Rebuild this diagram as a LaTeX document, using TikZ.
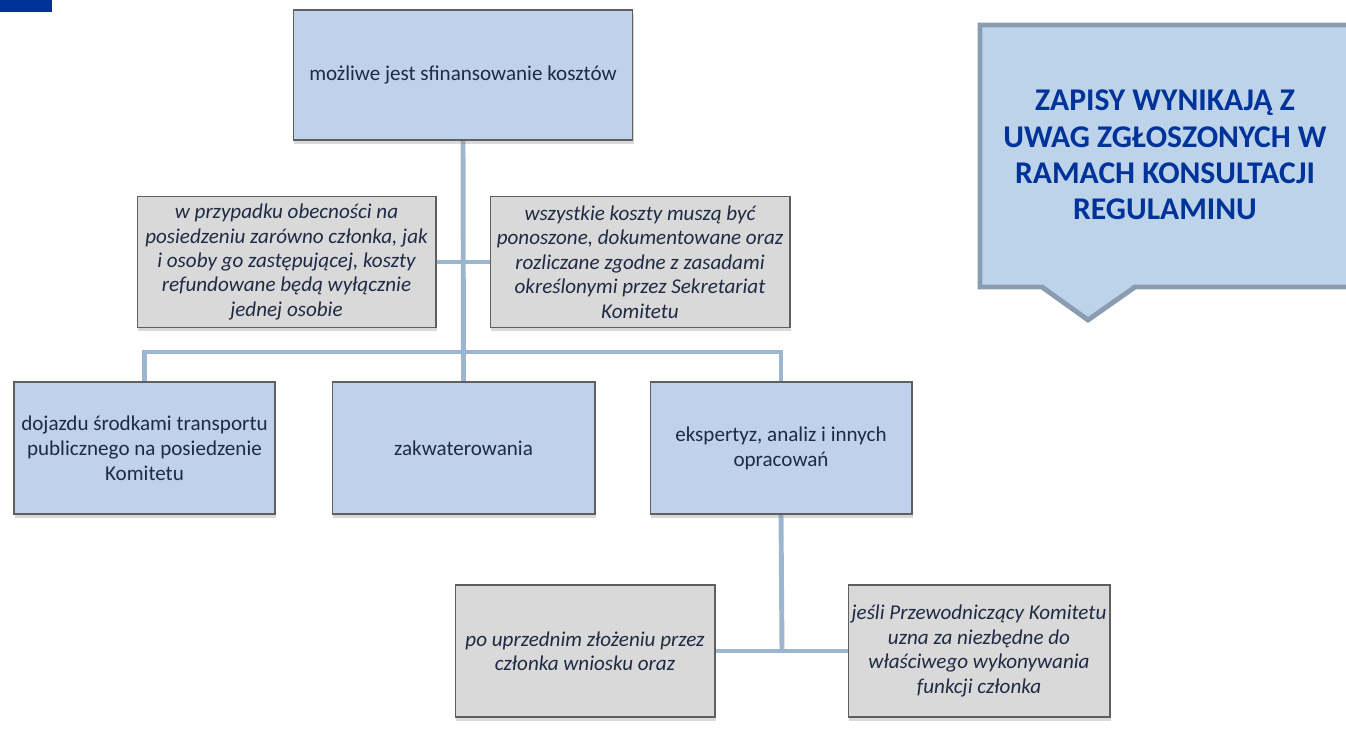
\documentclass[tikz,border=0pt]{standalone}
\usepackage{fontspec}
\setmainfont{Carlito}
\usepackage{tikz}
\usetikzlibrary{positioning, shadows, backgrounds}
\usepackage{xcolor}
\definecolor{kbblue}{HTML}{C0D2EB}
\definecolor{kbgray}{HTML}{D9D9D9}
\definecolor{kbedge}{HTML}{5F5F5F}
\definecolor{kblink}{HTML}{9DB6D0}
\definecolor{kbtext}{HTML}{1F2A44}
\definecolor{kbnavy}{HTML}{003399}
\definecolor{kbcallout}{HTML}{BDD3EA}
\definecolor{kbcalloutedge}{HTML}{8A9DB0}

\begin{document}
\begin{tikzpicture}[x=0.02cm, y=-0.02cm,
    every node/.style={text=kbtext, font=\fontsize{12}{14.2}\selectfont},
    bluebox/.style={draw=kbedge, line width=0.6pt, fill=kbblue, align=center,
      inner sep=1pt, drop shadow={opacity=0.3, shadow xshift=0.5pt, shadow yshift=-2pt}},
    graybox/.style={bluebox, fill=kbgray, font=\fontsize{12}{13.9}\selectfont\itshape},
    link/.style={draw=kblink, line width=2.8pt}]
  \useasboundingbox (0,0) rectangle (1346,750);
  \fill[kbnavy] (0,0) rectangle (52,12);
  % main box and the two notes
  \node[bluebox, minimum width=6.8cm, minimum height=2.6cm] (costs) at (463,75)
    {możliwe jest sfinansowanie kosztów};
  \node[graybox, minimum width=5.98cm, minimum height=2.62cm] (refund) at (286.5,262)
    {w przypadku obecności na\\posiedzeniu zarówno członka, jak\\i osoby go zastępującej, koszty\\refundowane będą wyłącznie\\jednej osobie};
  \node[graybox, minimum width=6cm, minimum height=2.62cm] (rules) at (640,262)
    {wszystkie koszty muszą być\\ponoszone, dokumentowane oraz\\rozliczane zgodne z zasadami\\określonymi przez Sekretariat\\Komitetu};
  % three kinds of costs
  \node[bluebox, minimum width=5.22cm, minimum height=2.64cm] (transport) at (144.5,448)
    {dojazdu środkami transportu\\publicznego na posiedzenie\\Komitetu};
  \node[bluebox, minimum width=5.26cm, minimum height=2.64cm] (lodging) at (463.5,448)
    {zakwaterowania};
  \node[bluebox, minimum width=5.24cm, minimum height=2.64cm] (expert) at (781,448)
    {ekspertyz, analiz i innych\\opracowań};
  % conditions for expert work
  \node[graybox, minimum width=5.2cm, minimum height=2.64cm] (request) at (585,651)
    {po uprzednim złożeniu przez\\członka wniosku oraz};
  \node[graybox, minimum width=5.24cm, minimum height=2.64cm] (chair) at (979,651)
    {jeśli Przewodniczący Komitetu\\uzna za niezbędne do\\właściwego wykonywania\\funkcji członka};
  % callout
  \draw[kbcalloutedge, line width=2.8pt, fill=kbcallout] (980,25) -- (1356,25) -- (1356,287)
    -- (1135,287) -- (1088,320) -- (1042,287) -- (980,287) -- cycle;
  \node[text=kbnavy, font=\fontsize{18}{20.6}\selectfont\bfseries, align=center] (note) at (1165,155)
    {ZAPISY WYNIKAJĄ Z\\UWAG ZGŁOSZONYCH W\\RAMACH KONSULTACJI\\REGULAMINU};
  \begin{scope}[on background layer]
    \coordinate (bar) at (463,352);
    \coordinate (split) at (782,651);
    \draw[link] (costs.south) -- (lodging.north);
    \draw[link] (refund.east) -- (rules.west);
    \draw[link] (transport.north) |- (bar) -| (expert.north);
    \draw[link] (expert.south) -- (split);
    \draw[link] (request.east) -- (chair.west);
  \end{scope}
\end{tikzpicture}
\end{document}
